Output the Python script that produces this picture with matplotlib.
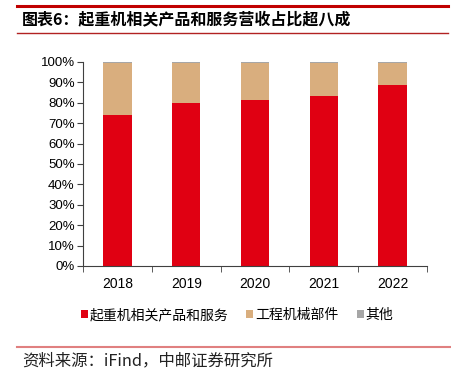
import matplotlib
matplotlib.use("Agg")
import matplotlib.pyplot as plt
import numpy as np

plt.rcParams['font.family'] = ['Liberation Sans', 'Noto Sans CJK SC', 'DejaVu Sans']

# data (share of revenue, %)
years = ["2018", "2019", "2020", "2021", "2022"]
crane = [74.2, 79.7, 81.4, 83.2, 88.7]
other = [0.3, 0.3, 0.3, 0.3, 0.3]
parts = [100 - c - o for c, o in zip(crane, other)]
labels = ["起重机相关产品和服务", "工程机械部件", "其他"]
colors = ["#e00012", "#d9ae7e", "#a6a6a6"]

fig = plt.figure(figsize=(4.52, 3.68), dpi=100)
ax = fig.add_axes([83/452, 102/368, 344/452, 204/368])

x = np.arange(len(years))
w = 0.41
ax.bar(x, crane, w, color=colors[0], label=labels[0])
ax.bar(x, parts, w, bottom=crane, color=colors[1], label=labels[1])
ax.bar(x, other, w, bottom=np.array(crane) + np.array(parts), color=colors[2], label=labels[2])

ax.set_xlim(-0.5, len(years) - 0.5)
ax.set_ylim(0, 100)
ax.set_yticks(np.arange(0, 101, 10))
ax.set_yticklabels([f"{v}%" for v in range(0, 101, 10)], fontsize=9.5)
ax.set_xticks(x)
ax.set_xticklabels(years, fontsize=10)
ax.set_xticks(np.arange(-0.5, len(years)), minor=True)
ax.tick_params(axis='x', which='major', length=0, pad=8)
ax.tick_params(axis='x', which='minor', length=4, direction='out', color='#404040')
ax.tick_params(axis='y', length=4, direction='out', color='#404040', pad=2)
for s in ['top', 'right']:
    ax.spines[s].set_visible(False)
for s in ['left', 'bottom']:
    ax.spines[s].set_color('#404040')
    ax.spines[s].set_linewidth(0.8)

ax.legend(loc='upper center', bbox_to_anchor=(0.448, -0.145), ncol=3, frameon=False,
          handlelength=0.5, handleheight=0.5, handletextpad=0.15,
          columnspacing=1.3, prop={'family': ['Noto Sans CJK SC'], 'size': 10})

# header / footer decoration
fig.add_artist(plt.Line2D([17/452, 448/452], [1 - 6/368, 1 - 6/368], color='#c00000', lw=2.2))
fig.add_artist(plt.Line2D([17/452, 448/452], [1 - 33/368, 1 - 33/368], color='#b22222', lw=1.0))
fig.text(22/452, 1 - 19/368, "图表6：起重机相关产品和服务营收占比超八成", fontsize=11.5,
         fontweight='bold', va='center', ha='left', family=['Noto Sans CJK SC'])
fig.add_artist(plt.Line2D([17/452, 1.0], [1 - 347/368, 1 - 347/368], color='#e08080', lw=1.5))
fig.text(22/452, 1 - 361/368, "资料来源：iFind，中邮证券研究所", fontsize=11.8,
         va='center', ha='left', family=['Noto Sans CJK SC'], color='#222222')

fig.savefig("out.png", dpi=100)
